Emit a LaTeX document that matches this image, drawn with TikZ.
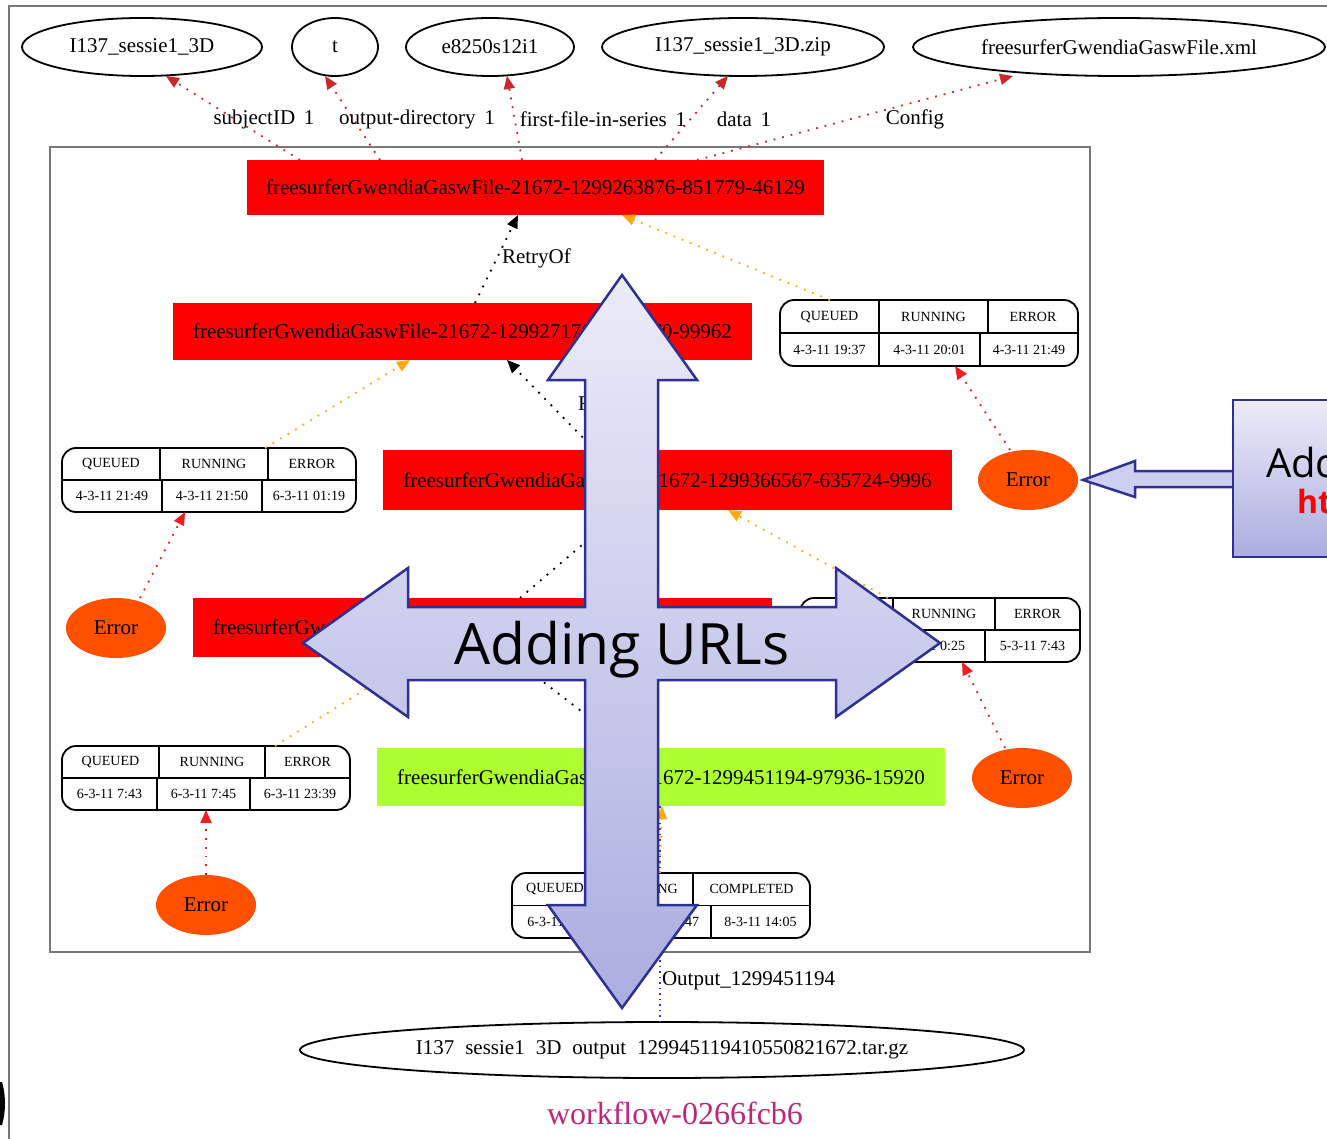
\documentclass[tikz,border=0pt]{standalone}
\usepackage{fontspec}
\setmainfont{Liberation Serif}
\newfontfamily\callfont{Open Sans}
\usetikzlibrary{shapes.geometric,arrows.meta,calc}

\definecolor{errfill}{RGB}{255,80,0}
\definecolor{jobred}{RGB}{255,0,0}
\definecolor{jobgreen}{RGB}{173,255,47}
\definecolor{darkedge}{RGB}{200,40,40}
\definecolor{erredge}{RGB}{240,30,30}
\definecolor{orangeedge}{RGB}{255,170,20}
\definecolor{blueedge}{RGB}{50,50,200}
\definecolor{navyline}{RGB}{46,49,146}
\definecolor{lavtop}{RGB}{236,236,248}
\definecolor{lavbot}{RGB}{170,173,224}
\definecolor{lavmid}{RGB}{205,207,238}
\definecolor{wfmagenta}{RGB}{190,40,120}
\definecolor{framegray}{RGB}{120,120,120}

\begin{document}
\begin{tikzpicture}[x=1pt,y=-1pt,
  every node/.style={inner sep=0pt, outer sep=0pt},
  gvtxt/.style={font=\fontsize{21}{21}\selectfont},
  fileell/.style={ellipse, draw=black, line width=1.8pt, minimum height=58pt, gvtxt},
  jobbox/.style={rectangle, fill=jobred, gvtxt},
  errell/.style={ellipse, fill=errfill, minimum width=100pt, minimum height=60pt, gvtxt},
  tblbox/.style={rectangle, rounded corners=14pt, draw=black, line width=1.8pt, fill=white},
  tblline/.style={line width=1.8pt},
  tbltxt/.style={font=\fontsize{14}{14}\selectfont},
  elabel/.style={gvtxt},
  topedge/.style={draw=darkedge, line width=1.8pt, dash pattern=on 1.8pt off 7pt, -{Triangle[length=13pt,width=11pt]}},
  retryedge/.style={draw=black, line width=1.8pt, dash pattern=on 1.8pt off 7pt, -{Triangle[length=13pt,width=11pt]}},
  orangeedge/.style={draw=orangeedge, line width=1.8pt, dash pattern=on 1.8pt off 7pt, -{Triangle[length=13pt,width=11pt]}},
  erredge/.style={draw=erredge, line width=1.8pt, dash pattern=on 1.8pt off 7pt, -{Triangle[length=13pt,width=11pt]}},
  outedge/.style={draw=blueedge, line width=1.5pt, dash pattern=on 1.5pt off 4pt},
  bigarrow/.style={draw=navyline, line width=2.5pt, line join=miter, top color=lavtop, bottom color=lavbot},
]
\useasboundingbox (0,0) rectangle (1327,1139);
\fill[white] (0,0) rectangle (1327,1139);

% page frame
\draw[framegray, line width=2pt] (9,1139) -- (9,6) -- (1327,6);
\fill[black] (0,1082) -- (2,1082) .. controls (6,1095) and (6,1112) .. (2,1125) -- (0,1125) -- cycle;

% cluster
\draw[framegray, line width=1.3pt] (50,147) rectangle (1090,952);

% input / output files
\node[fileell, minimum width=240pt] (e1) at (142,47) {I137\_sessie1\_3D};
\node[fileell, minimum width=86pt]  (et) at (335,47) {t};
\node[fileell, minimum width=168pt] (e3) at (490,47) {e8250s12i1};
\node[fileell, minimum width=282pt] (e4) at (743,47) {I137\_sessie1\_3D.zip};
\node[fileell, minimum width=412pt] (e5) at (1119,47) {freesurferGwendiaGaswFile.xml};
\node[fileell, minimum width=724pt, minimum height=56pt] (fo) at (662,1050)
  {I137\hspace{11pt}sessie1\hspace{11pt}3D\hspace{11pt}output\hspace{11pt}129945119410550821672.tar.gz};

% jobs
\node[jobbox, minimum width=577pt, minimum height=55pt] (b1) at (535.5,187.5) {freesurferGwendiaGaswFile-21672-1299263876-851779-46129};
\node[jobbox, minimum width=579pt, minimum height=57pt] (b2) at (462.5,331.5) {freesurferGwendiaGaswFile-21672-1299271762-416370-99962};
\node[jobbox, minimum width=569pt, minimum height=60pt] (b3) at (667.5,480) {freesurferGwendiaGaswFile-21672-1299366567-635724-9996};
\node[jobbox, minimum width=579pt, minimum height=59pt] (b4) at (482.5,627.5) {freesurferGwendiaGaswFile-21672-1299373813-260418-31057};
\node[jobbox, fill=jobgreen, minimum width=568pt, minimum height=58pt] (b5) at (661,777) {freesurferGwendiaGaswFile-21672-1299451194-97936-15920};

% errors
\node[errell] (er1) at (1028,480) {Error};
\node[errell] (el1) at (116,628) {Error};
\node[errell] (er2) at (1022,778) {Error};
\node[errell] (el2) at (206,905) {Error};

% input edges
\draw[topedge] ([xshift=53]b1.north west) -- ([xshift=24]e1.south);
\draw[topedge] ([xshift=133]b1.north west) -- ([xshift=-10]et.south);
\draw[topedge] ([xshift=275]b1.north west) -- ([xshift=17]e3.south);
\draw[topedge] ([xshift=408]b1.north west) -- ([xshift=-15]e4.south);
\draw[topedge] ([xshift=450]b1.north west) -- ([xshift=-106]e5.south);
\node[elabel] (l1) at (264,119) {subjectID\, 1};
\node[elabel] (l2) at (417,119) {output-directory\, 1};
\node[elabel] (l3) at (603,119) {first-file-in-series\, 1};
\node[elabel] (l4) at (744,119) {data\, 1};
\node[elabel] (l5) at (915,119) {Config};

% retries
\draw[retryedge] ([xshift=302]b2.north west) -- ([xshift=271]b1.south west);
\node[elabel, anchor=west] (rl1) at (502,258) {RetryOf};
\draw[retryedge] ([xshift=212]b3.north west) -- ([xshift=334]b2.south west);
\node[elabel, anchor=west] (rl2) at (578,405) {RetryOf};
\draw[retryedge] ([xshift=327]b4.north west) -- ([xshift=240]b3.south west);
\draw[retryedge] ([xshift=252]b5.north west) -- ([xshift=318]b4.south west);

% output
\draw[outedge] ([xshift=283]b5.south west) -- ([xshift=-2]fo.north);
\node[elabel, anchor=west] (lo) at (662,981) {Output\_1299451194};

% status tables
\node[tblbox, minimum width=298pt, minimum height=66pt] (ta) at (929,333) {};
\draw[tblline] (ta.west) -- (ta.east) (879,300) -- (879,333) (988,300) -- (988,333) (879,333) -- (879,366) (980,333) -- (980,366);
\node[tbltxt] at (829.5,316.5) {QUEUED};
\node[tbltxt] at (933.5,316.5) {RUNNING};
\node[tbltxt] at (1033,316.5) {ERROR};
\node[tbltxt] at (829.5,349.5) {4-3-11 19:37};
\node[tbltxt] at (929.5,349.5) {4-3-11 20:01};
\node[tbltxt] at (1029,349.5) {4-3-11 21:49};

\node[tblbox, minimum width=294pt, minimum height=64pt] (tb) at (209,480) {};
\draw[tblline] (tb.west) -- (tb.east) (160,448) -- (160,480) (268,448) -- (268,480) (162,480) -- (162,512) (262,480) -- (262,512);
\node[tbltxt] at (111,464) {QUEUED};
\node[tbltxt] at (214,464) {RUNNING};
\node[tbltxt] at (312,464) {ERROR};
\node[tbltxt] at (112,496) {4-3-11 21:49};
\node[tbltxt] at (212,496) {4-3-11 21:50};
\node[tbltxt] at (309,496) {6-3-11 01:19};

\node[tblbox, minimum width=280pt, minimum height=64pt] (tc) at (940,630) {};
\draw[tblline] (tc.west) -- (tc.east) (893,598) -- (893,630) (995,598) -- (995,630) (880,630) -- (880,662) (985,630) -- (985,662);
\node[tbltxt] at (846.5,614) {QUEUED};
\node[tbltxt] at (944,614) {RUNNING};
\node[tbltxt] at (1037.5,614) {ERROR};
\node[tbltxt] at (840,646) {5-3-11 0:10};
\node[tbltxt] at (932.5,646) {5-3-11 0:25};
\node[tbltxt] at (1032.5,646) {5-3-11 7:43};

\node[tblbox, minimum width=288pt, minimum height=64pt] (td) at (206,778) {};
\draw[tblline] (td.west) -- (td.east) (159,746) -- (159,778) (265,746) -- (265,778) (157,778) -- (157,810) (250,778) -- (250,810);
\node[tbltxt] at (110.5,762) {QUEUED};
\node[tbltxt] at (212,762) {RUNNING};
\node[tbltxt] at (307.5,762) {ERROR};
\node[tbltxt] at (109.5,794) {6-3-11 7:43};
\node[tbltxt] at (203.5,794) {6-3-11 7:45};
\node[tbltxt] at (300,794) {6-3-11 23:39};

\node[tblbox, minimum width=298pt, minimum height=65pt] (te) at (661,905.5) {};
\draw[tblline] (te.west) -- (te.east) (598,873) -- (598,905.5) (693,873) -- (693,905.5) (615,905.5) -- (615,938) (711,905.5) -- (711,938);
\node[tbltxt] at (555,889) {QUEUED};
\node[tbltxt] at (645.5,889) {RUNNING};
\node[tbltxt] at (751.5,889) {COMPLETED};
\node[tbltxt] at (563.5,921.5) {6-3-11 23:40};
\node[tbltxt] at (663,921.5) {6-3-11 23:47};
\node[tbltxt] at (760.5,921.5) {8-3-11 14:05};

% status edges
\draw[orangeedge] ([xshift=50]ta.north west) -- ([xshift=375]b1.south west);
\draw[orangeedge] ([xshift=203]tb.north west) -- ([xshift=237]b2.south west);
\draw[orangeedge] ([xshift=88]tc.north west) -- ([xshift=345]b3.south west);
\draw[orangeedge] ([xshift=213]td.north west) -- ([xshift=224]b4.south west);
\draw[orangeedge] ([xshift=148]te.north west) -- ([xshift=285]b5.south west);
\draw[erredge] ([xshift=-18]er1.north) -- ([xshift=175]ta.south west);
\draw[erredge] ([xshift=24]el1.north) -- ([xshift=123]tb.south west);
\draw[erredge] ([xshift=-17]er2.north) -- ([xshift=162]tc.south west);
\draw[erredge] (el2.north) -- ([xshift=144]td.south west);

% workflow title
\node[font=\fontsize{32}{32}\selectfont, text=wfmagenta] (wf) at (675,1113) {workflow-0266fcb6};

% four-way arrow
\draw[bigarrow] (622,275) -- (697,380) -- (658,380) -- (658,607) -- (836,607) -- (836,568)
  -- (940,643) -- (836,717) -- (836,680) -- (658,680) -- (658,905) -- (697,905)
  -- (622,1008) -- (548,905) -- (585,905) -- (585,680) -- (408,680) -- (408,717)
  -- (303,643) -- (408,568) -- (408,607) -- (585,607) -- (585,380) -- (548,380) -- cycle;
\node[font=\callfont\fontsize{57}{57}\selectfont, anchor=base] (urls) at (622,664) {Adding URLs};

% side callout
\draw[draw=navyline, line width=2.5pt, line join=miter, fill=lavmid]
  (1233,471) -- (1135,471) -- (1135,461) -- ([xshift=5]er1.east) -- (1135,497) -- (1135,487) -- (1233,487);
\draw[draw=navyline, line width=2.5pt, top color=lavtop, bottom color=lavbot] (1233,400) rectangle (1360,557);
\node[font=\callfont\fontsize{40}{40}\selectfont, anchor=base west] (add) at (1266,477) {Add};
\node[font=\callfont\bfseries\fontsize{32}{32}\selectfont, text=red, anchor=base west] (ht) at (1297,513) {ht};
\end{tikzpicture}
\end{document}
